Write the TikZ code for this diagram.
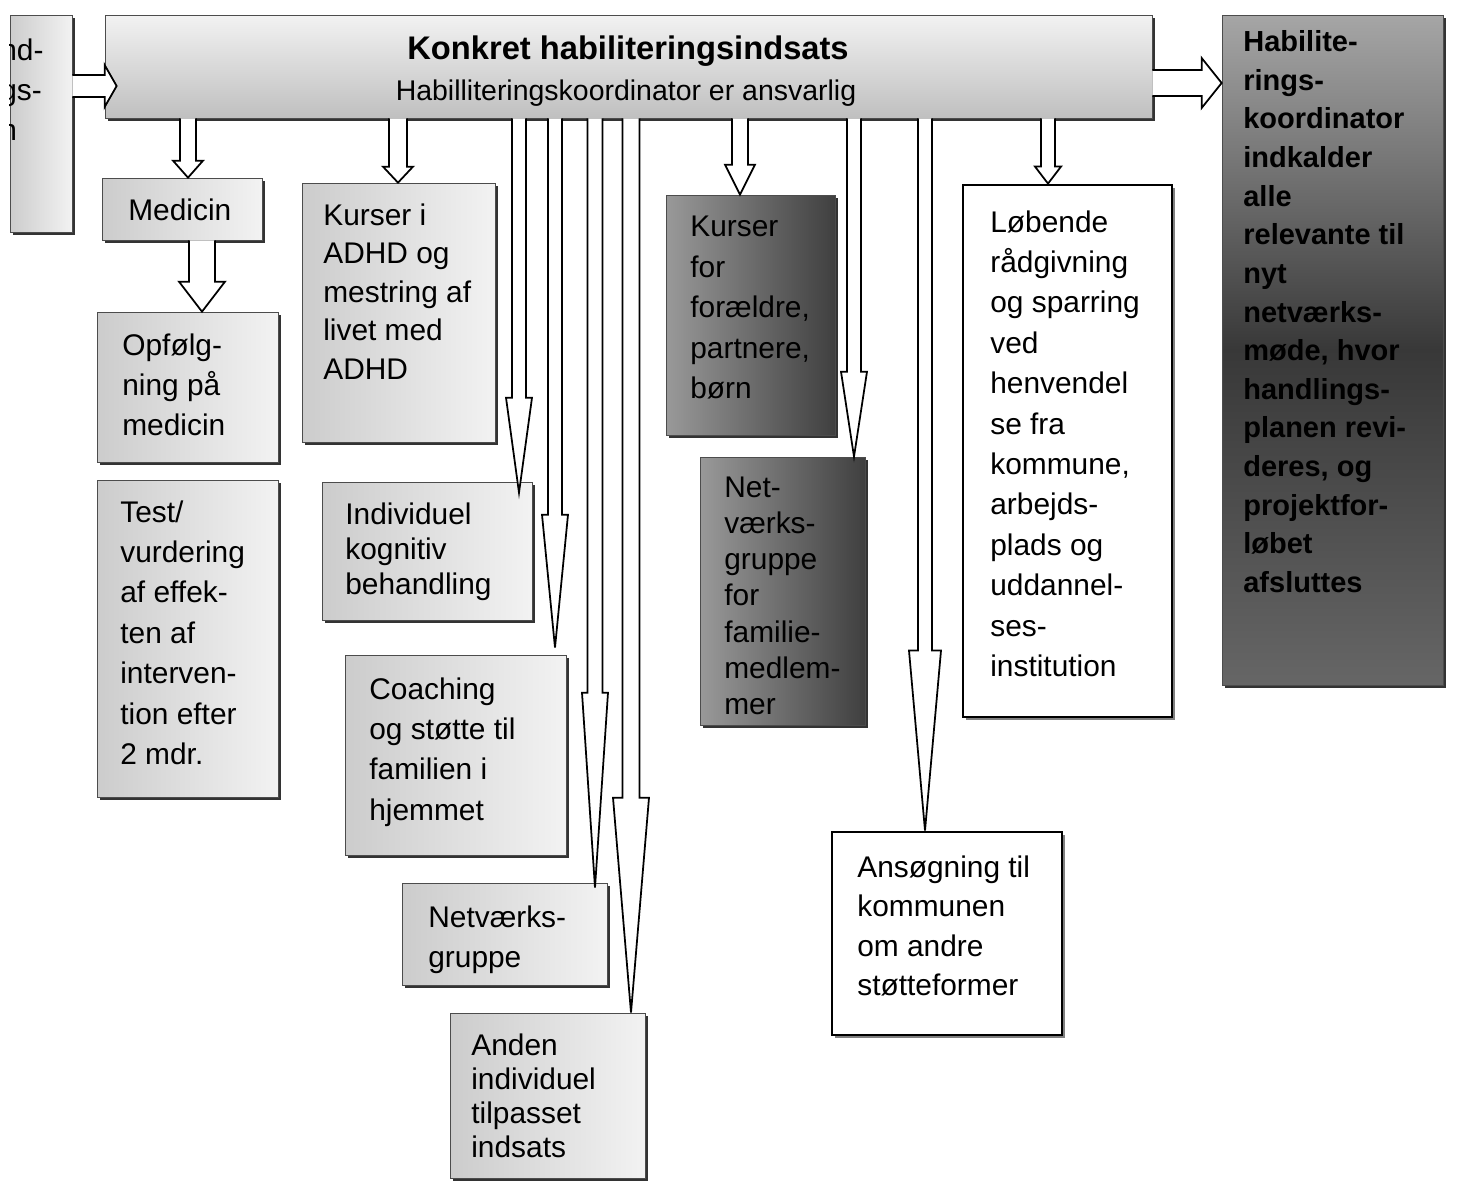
\documentclass[tikz,border=0pt]{standalone}
\usepackage{fontspec}
\setmainfont{Liberation Sans}
\usetikzlibrary{calc,fit,shadows}

% hollow block arrows: start, end, half shaft, half head, head length (in px)
\newcommand{\blkdown}[5]{%
	\draw[blk] let \p1=#1, \p2=#2 in
		(\x1-#3*0.2mm,\y1) -- (\x1-#3*0.2mm,\y2+#5*0.2mm) -- (\x1-#4*0.2mm,\y2+#5*0.2mm) -- (\x1,\y2)
		-- (\x1+#4*0.2mm,\y2+#5*0.2mm) -- (\x1+#3*0.2mm,\y2+#5*0.2mm) -- (\x1+#3*0.2mm,\y1);}
\newcommand{\blkright}[5]{%
	\draw[blk] let \p1=#1, \p2=#2 in
		(\x1,\y1+#3*0.2mm) -- (\x2-#5*0.2mm,\y1+#3*0.2mm) -- (\x2-#5*0.2mm,\y1+#4*0.2mm) -- (\x2,\y1)
		-- (\x2-#5*0.2mm,\y1-#4*0.2mm) -- (\x2-#5*0.2mm,\y1-#3*0.2mm) -- (\x1,\y1-#3*0.2mm);}

\begin{document}
\begin{tikzpicture}[x=0.2mm, y=-0.2mm,
	box/.style={draw=black!70, inner sep=0pt, left color=gray!40, right color=gray!10,
		drop shadow={shadow xshift=0.5mm, shadow yshift=-0.5mm, fill=black, opacity=0.8}},
	darkbox/.style={box, left color=black!40, right color=black!75},
	whitebox/.style={draw=black, line width=1.6pt, fill=white, inner sep=0pt,
		drop shadow={shadow xshift=0.6mm, shadow yshift=-0.6mm, fill=black!50, opacity=1}},
	txt/.style={anchor=north west, inner sep=0pt, align=left, font=\fontsize{17}{23}\selectfont},
	blk/.style={draw=black, fill=white, line width=1pt, line join=miter}]

	\useasboundingbox (0,0) rectangle (1468,1189);

	% boxes
	\node[box, fit={(10,15) (72,232)}] (lft) {};
	\node[box, top color=gray!10, bottom color=gray!50, fit={(105,15) (1152,118)}] (bar) {};
	\node[box, top color=black!35, bottom color=black!60, middle color=black!78, fit={(1222,15) (1443,685)}] (koord) {};
	\node[box, fit={(102,178) (262,240)}] (med) {};
	\node[box, fit={(97,312) (278,462)}] (opf) {};
	\node[box, fit={(97,480) (278,797)}] (test) {};
	\node[box, fit={(302,183) (495,442)}] (kurs) {};
	\node[box, fit={(322,482) (532,620)}] (kogn) {};
	\node[box, fit={(345,655) (566,855)}] (coach) {};
	\node[box, fit={(402,883) (607,985)}] (netv) {};
	\node[box, fit={(450,1013) (645,1178)}] (anden) {};
	\node[darkbox, fit={(666,195) (835,435)}] (foraeld) {};
	\node[darkbox, fit={(700,457) (865,725)}] (famil) {};
	\node[whitebox, fit={(963,185) (1172,717)}] (raad) {};
	\node[whitebox, fit={(832,832) (1062,1035)}] (ansog) {};

	% texts
	\begin{scope}
		\clip (lft.north west) rectangle (lft.south east);
		\node[txt] (lft-t) at (0,38) {nd-\\gs-\\n};
	\end{scope}
	\node[font=\fontsize{18.6}{21}\selectfont\bfseries, inner sep=0pt, anchor=north] (titel) at (628,35) {Konkret habiliteringsindsats};
	\node[font=\fontsize{16.2}{19}\selectfont, inner sep=0pt, anchor=north] (undertitel) at (626,80) {Habilliteringskoordinator er ansvarlig};
	\node[txt] (med-t) at (128,198) {Medicin};
	\node[txt] (opf-t) at (122,333) {Opfølg-\\ning på\\medicin};
	\node[txt] (test-t) at (120,500) {Test/\\vurdering\\af effek-\\ten af\\interven-\\tion efter\\2 mdr.};
	\node[txt, font=\fontsize{17}{22}\selectfont] (kurs-t) at (323,203) {Kurser i\\ADHD og\\mestring af\\livet med\\ADHD};
	\node[txt, font=\fontsize{17}{20}\selectfont] (kogn-t) at (345,502) {Individuel\\kognitiv\\behandling};
	\node[txt] (coach-t) at (369,677) {Coaching\\og støtte til\\familien i\\hjemmet};
	\node[txt] (netv-t) at (428,905) {Netværks-\\gruppe};
	\node[txt, font=\fontsize{17}{19.5}\selectfont] (anden-t) at (471,1033) {Anden\\individuel\\tilpasset\\indsats};
	\node[txt] (foraeld-t) at (690,216) {Kurser\\for\\forældre,\\partnere,\\børn};
	\node[txt, font=\fontsize{17}{20.5}\selectfont] (famil-t) at (724,477) {Net-\\værks-\\gruppe\\for\\familie-\\medlem-\\mer};
	\node[txt] (raad-t) at (990,210) {Løbende\\rådgivning\\og sparring\\ved\\henvendel\\se fra\\kommune,\\arbejds-\\plads og\\uddannel-\\ses-\\institution};
	\node[txt, font=\fontsize{17}{22.5}\selectfont] (ansog-t) at (857,855) {Ansøgning til\\kommunen\\om andre\\støtteformer};
	\node[txt, font=\fontsize{16.5}{22}\selectfont\bfseries] (koord-t) at (1243,30) {Habilite-\\rings-\\koordinator\\indkalder\\alle\\relevante til\\nyt\\netværks-\\møde, hvor\\handlings-\\planen revi-\\deres, og\\projektfor-\\løbet\\afsluttes};

	% arrows
	\blkright{(lft.east |- 0,86)}{($(bar.west |- 0,86)+(12,0)$)}{11}{21}{12}
	\blkright{(bar.east |- 0,83)}{(koord.west |- 0,83)}{13}{25}{20}
	\blkdown{(188,0 |- bar.south)}{(188,0 |- med.north)}{8}{15}{17}
	\blkdown{(202,0 |- med.south)}{(202,0 |- opf.north)}{13}{23}{30}
	\blkdown{(398,0 |- bar.south)}{(398,0 |- kurs.north)}{9}{15}{16}
	\blkdown{(519,0 |- bar.south)}{($(519,0 |- kogn.north)+(0,11)$)}{7}{13}{95}
	\blkdown{(555,0 |- bar.south)}{($(555,0 |- coach.north)+(0,-7)$)}{7}{13}{133}
	\blkdown{(595,0 |- bar.south)}{($(595,0 |- netv.north)+(0,5)$)}{7.5}{13}{195}
	\blkdown{(631,0 |- bar.south)}{(631,0 |- anden.north)}{8.5}{18}{215}
	\blkdown{(740,0 |- bar.south)}{(740,0 |- foraeld.north)}{8}{15}{30}
	\blkdown{(854,0 |- bar.south)}{(854,0 |- famil.north)}{7}{13}{85}
	\blkdown{(925,0 |- bar.south)}{(925,0 |- ansog.north)}{7}{16}{180}
	\blkdown{(1048,0 |- bar.south)}{(1048,0 |- raad.north)}{7}{13}{17}
\end{tikzpicture}
\end{document}
